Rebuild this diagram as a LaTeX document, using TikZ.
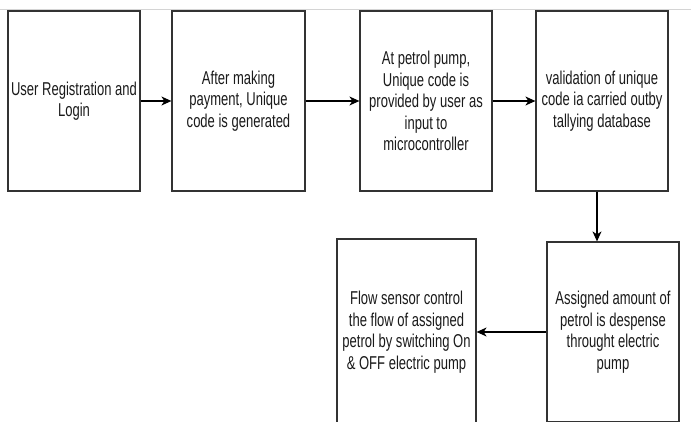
\documentclass[tikz,border=0pt]{standalone}
\usepackage{fontspec}
\setmainfont{Liberation Sans}[FakeStretch=0.70]
\usetikzlibrary{arrows.meta}
\definecolor{boxline}{HTML}{333333}
\definecolor{txt}{HTML}{1A1A1A}
\definecolor{topline}{HTML}{D4D4D4}
\begin{document}
\begin{tikzpicture}[x=1pt,y=-1pt,
  procbox/.style={draw=boxline, line width=1.2pt, fill=white, inner sep=0pt,
    minimum width=132pt, minimum height=180pt, align=center, text=txt,
    font=\fontsize{18.6}{21.5}\selectfont},
  flow/.style={draw=black, line width=1.2pt, -{Stealth[length=10pt,width=9pt,inset=3pt]}}]
\useasboundingbox (0,0) rectangle (691,421);
\fill[white] (0,0) rectangle (691,421);
\coordinate (tl) at (0,9);
\coordinate (tr) at (691,9);
\draw[topline, line width=1pt] (tl) -- (tr);
\node[procbox] (b1) at (74,101) {User Registration and\\Login};
\node[procbox, minimum width=133pt] (b2) at (238.5,101) {After making\\payment, Unique\\code is generated};
\node[procbox] (b3) at (426,101) {At petrol pump,\\Unique code is\\provided by user as\\input to\\microcontroller};
\node[procbox] (b4) at (602,101) {validation of unique\\code ia carried outby\\tallying database};
\node[procbox] (b5) at (613,332) {Assigned amount of\\petrol is despense\\throught electric\\pump};
\node[procbox, minimum width=139pt, minimum height=186pt] (b6) at (406.5,332) {Flow sensor control\\the flow of assigned\\petrol by switching On\\\& OFF electric pump};
\draw[flow] (b1.east) -- (b2.west);
\draw[flow] (b2.east) -- (b3.west);
\draw[flow] (b3.east) -- (b4.west);
\draw[flow] ([xshift=-5pt]b4.south) -- ([xshift=-5pt]b4.south |- b5.north);
\draw[flow] (b5.west) -- (b6.east);
\end{tikzpicture}
\end{document}
